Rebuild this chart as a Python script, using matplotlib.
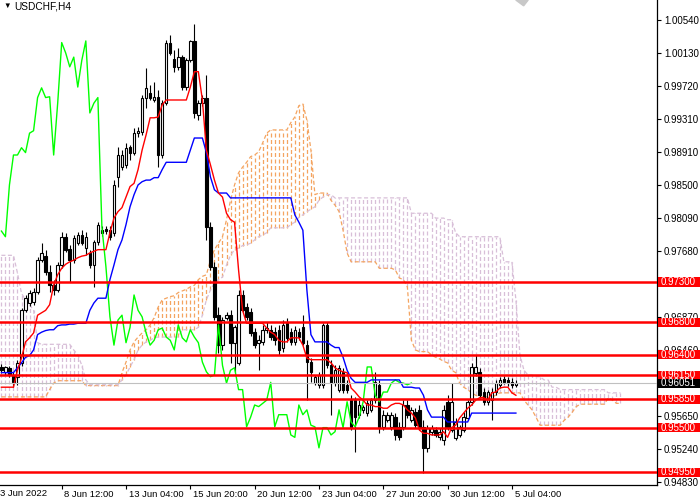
import matplotlib
matplotlib.use("Agg")
import matplotlib.pyplot as plt
import matplotlib.transforms as mtransforms
from matplotlib.patches import Rectangle
import numpy as np

plt.rcParams['font.family'] = ['Liberation Sans', 'DejaVu Sans']

symbol = "USDCHF,H4"

# H4 candles, 3 Jun 20:00 .. 5 Jul 08:00
opens = [0.9625, 0.9619, 0.9624, 0.9615, 0.9613, 0.9630, 0.9695, 0.9704, 0.9705, 0.9718,
         0.9757, 0.9762, 0.9742, 0.9726, 0.9720, 0.9751, 0.9786, 0.9771, 0.9757, 0.9778,
         0.9788, 0.9772, 0.9766, 0.9751, 0.9780, 0.9791, 0.9796, 0.9794, 0.9791, 0.9860,
         0.9872, 0.9875, 0.9897, 0.9890, 0.9914, 0.9915, 0.9958, 0.9964, 0.9955, 0.9959,
         0.9887, 0.9951, 1.0026, 1.0006, 0.9996, 1.0008, 0.9971, 1.0004, 1.0028, 0.9936,
         0.9951, 0.9958, 0.9798, 0.9749, 0.9689, 0.9652, 0.9686, 0.9689, 0.9655, 0.9630,
         0.9714, 0.9699, 0.9693, 0.9668, 0.9655, 0.9656, 0.9671, 0.9671, 0.9668, 0.9671,
         0.9649, 0.9679, 0.9668, 0.9656, 0.9668, 0.9674, 0.9652, 0.9631, 0.9605, 0.9603,
         0.9603, 0.9677, 0.9627, 0.9605, 0.9597, 0.9619, 0.9603, 0.9584, 0.9584, 0.9566,
         0.9572, 0.9568, 0.9572, 0.9584, 0.9603, 0.9551, 0.9559, 0.9551, 0.9563, 0.9551,
         0.9551, 0.9578, 0.9559, 0.9569, 0.9572, 0.9551, 0.9525, 0.9545, 0.9547, 0.9538,
         0.9535, 0.9582, 0.9547, 0.9537, 0.9541, 0.9547, 0.9562, 0.9582, 0.9618, 0.9619,
         0.9594, 0.9582, 0.9584, 0.9594, 0.9603, 0.9610, 0.9609, 0.9606, 0.9603]
highs = [0.9629, 0.9626, 0.9626, 0.9619, 0.9634, 0.9698, 0.9714, 0.9720, 0.9723, 0.9761,
         0.9778, 0.9770, 0.9751, 0.9733, 0.9755, 0.9792, 0.9791, 0.9776, 0.9788, 0.9792,
         0.9794, 0.9792, 0.9770, 0.9782, 0.9804, 0.9799, 0.9799, 0.9799, 0.9856, 0.9897,
         0.9893, 0.9902, 0.9899, 0.9920, 0.9922, 0.9961, 0.9995, 0.9974, 0.9977, 0.9967,
         0.9955, 1.0029, 1.0035, 1.0017, 1.0019, 1.0011, 1.0007, 1.0029, 1.0049, 0.9955,
         0.9961, 0.9986, 0.9804, 0.9755, 0.9699, 0.9687, 0.9693, 0.9695, 0.9677, 0.9720,
         0.9720, 0.9704, 0.9698, 0.9673, 0.9665, 0.9677, 0.9681, 0.9677, 0.9674, 0.9677,
         0.9683, 0.9686, 0.9673, 0.9676, 0.9673, 0.9689, 0.9658, 0.9636, 0.9615, 0.9619,
         0.9679, 0.9681, 0.9634, 0.9627, 0.9627, 0.9624, 0.9609, 0.9590, 0.9588, 0.9584,
         0.9578, 0.9584, 0.9587, 0.9619, 0.9609, 0.9572, 0.9569, 0.9569, 0.9568, 0.9557,
         0.9584, 0.9584, 0.9576, 0.9574, 0.9578, 0.9559, 0.9553, 0.9553, 0.9551, 0.9550,
         0.9578, 0.9590, 0.9605, 0.9562, 0.9553, 0.9569, 0.9584, 0.9630, 0.9640, 0.9624,
         0.9599, 0.9597, 0.9599, 0.9609, 0.9613, 0.9614, 0.9613, 0.9611, 0.9609]
lows = [0.9618, 0.9615, 0.9613, 0.9600, 0.9603, 0.9626, 0.9693, 0.9700, 0.9702, 0.9715,
        0.9755, 0.9739, 0.9718, 0.9714, 0.9718, 0.9747, 0.9767, 0.9730, 0.9754, 0.9776,
        0.9776, 0.9763, 0.9747, 0.9724, 0.9776, 0.9787, 0.9789, 0.9782, 0.9787, 0.9848,
        0.9869, 0.9871, 0.9881, 0.9887, 0.9909, 0.9912, 0.9945, 0.9955, 0.9953, 0.9872,
        0.9883, 0.9949, 1.0011, 0.9990, 0.9992, 0.9967, 0.9967, 1.0002, 0.9933, 0.9930,
        0.9948, 0.9782, 0.9745, 0.9683, 0.9642, 0.9646, 0.9683, 0.9630, 0.9619, 0.9627,
        0.9693, 0.9683, 0.9663, 0.9648, 0.9621, 0.9652, 0.9667, 0.9658, 0.9652, 0.9640,
        0.9644, 0.9656, 0.9652, 0.9652, 0.9658, 0.9652, 0.9584, 0.9606, 0.9603, 0.9599,
        0.9599, 0.9624, 0.9566, 0.9601, 0.9594, 0.9593, 0.9593, 0.9547, 0.9520, 0.9562,
        0.9568, 0.9564, 0.9569, 0.9580, 0.9543, 0.9547, 0.9557, 0.9547, 0.9535, 0.9535,
        0.9547, 0.9562, 0.9557, 0.9550, 0.9547, 0.9494, 0.9520, 0.9541, 0.9538, 0.9535,
        0.9529, 0.9547, 0.9545, 0.9535, 0.9538, 0.9545, 0.9559, 0.9578, 0.9614, 0.9587,
        0.9578, 0.9578, 0.9559, 0.9590, 0.9599, 0.9604, 0.9601, 0.9599, 0.9600]
closes = [0.9621, 0.9625, 0.9615, 0.9606, 0.9630, 0.9695, 0.9710, 0.9716, 0.9718, 0.9757,
          0.9766, 0.9742, 0.9726, 0.9720, 0.9751, 0.9786, 0.9770, 0.9757, 0.9784, 0.9788,
          0.9778, 0.9786, 0.9751, 0.9780, 0.9801, 0.9794, 0.9793, 0.9786, 0.9850, 0.9887,
          0.9887, 0.9896, 0.9890, 0.9914, 0.9917, 0.9958, 0.9970, 0.9958, 0.9959, 0.9887,
          0.9951, 1.0026, 1.0013, 0.9996, 1.0008, 0.9971, 1.0004, 1.0028, 0.9939, 0.9951,
          0.9958, 0.9798, 0.9749, 0.9687, 0.9652, 0.9683, 0.9689, 0.9655, 0.9674, 0.9714,
          0.9695, 0.9687, 0.9667, 0.9652, 0.9658, 0.9671, 0.9673, 0.9662, 0.9658, 0.9646,
          0.9677, 0.9661, 0.9656, 0.9671, 0.9662, 0.9655, 0.9631, 0.9619, 0.9613, 0.9615,
          0.9677, 0.9627, 0.9605, 0.9621, 0.9624, 0.9597, 0.9597, 0.9551, 0.9563, 0.9578,
          0.9576, 0.9580, 0.9584, 0.9606, 0.9551, 0.9566, 0.9566, 0.9566, 0.9541, 0.9538,
          0.9578, 0.9566, 0.9572, 0.9553, 0.9551, 0.9525, 0.9550, 0.9550, 0.9541, 0.9545,
          0.9572, 0.9550, 0.9582, 0.9557, 0.9551, 0.9563, 0.9582, 0.9625, 0.9625, 0.9590,
          0.9582, 0.9594, 0.9594, 0.9605, 0.9609, 0.9606, 0.9605, 0.9603, 0.96051]

# Ichimoku lines
tenkan = [0.9600, 0.9600, 0.9600, 0.9600, 0.9621, 0.9636, 0.9656, 0.9661, 0.9667, 0.9689,
          0.9692, 0.9695, 0.9702, 0.9726, 0.9739, 0.9747, 0.9752, 0.9755, 0.9757, 0.9760,
          0.9762, 0.9763, 0.9766, 0.9768, 0.9770, 0.9770, 0.9770, 0.9791, 0.9809, 0.9817,
          0.9822, 0.9835, 0.9848, 0.9852, 0.9869, 0.9893, 0.9912, 0.9933, 0.9933, 0.9934,
          0.9949, 0.9955, 0.9955, 0.9955, 0.9955, 0.9955, 0.9955, 0.9971, 0.9990, 0.9990,
          0.9955, 0.9893, 0.9875, 0.9856, 0.9840, 0.9835, 0.9815, 0.9807, 0.9804, 0.9745,
          0.9695, 0.9679, 0.9679, 0.9679, 0.9679, 0.9679, 0.9673, 0.9668, 0.9665, 0.9658,
          0.9656, 0.9656, 0.9661, 0.9661, 0.9661, 0.9652, 0.9636, 0.9634, 0.9634, 0.9634,
          0.9634, 0.9634, 0.9630, 0.9624, 0.9621, 0.9619, 0.9618, 0.9599, 0.9594, 0.9588,
          0.9584, 0.9578, 0.9578, 0.9576, 0.9576, 0.9574, 0.9574, 0.9578, 0.9580, 0.9580,
          0.9578, 0.9572, 0.9568, 0.9562, 0.9547, 0.9543, 0.9543, 0.9541, 0.9541, 0.9541,
          0.9545, 0.9538, 0.9550, 0.9553, 0.9562, 0.9568, 0.9574, 0.9578, 0.9584, 0.9587,
          0.9587, 0.9584, 0.9593, 0.9594, 0.9599, 0.9600, 0.9600, 0.9593, 0.9590]
kijun = ([0.9618, 0.9618, 0.9618, 0.9618, 0.9624, 0.9630, 0.9637, 0.9639, 0.9646, 0.9665,
          0.9668, 0.9670, 0.9671, 0.9671, 0.9676, 0.9677, 0.9677, 0.9678, 0.9678, 0.9679,
          0.9679, 0.9679, 0.9695, 0.9704, 0.9710, 0.9710, 0.9710, 0.9733, 0.9751, 0.9770,
          0.9782, 0.9801, 0.9823, 0.9838, 0.9850, 0.9854, 0.9856, 0.9856, 0.9859, 0.9859,
          0.9869, 0.9878, 0.9878, 0.9878, 0.9878, 0.9878, 0.9878, 0.9893, 0.9908, 0.9908,
          0.9908, 0.9890, 0.9860, 0.9844, 0.9840, 0.9840, 0.9840]
         + [0.9834] * 16
         + [0.9813, 0.9804, 0.9794, 0.9720, 0.9665, 0.9656, 0.9656,
            0.9656, 0.9656, 0.9652, 0.9649, 0.9649, 0.9637, 0.9621, 0.9611, 0.9606, 0.9606,
            0.9606, 0.9606]
         + [0.9609] * 8
         + [0.9600, 0.9600, 0.9600, 0.9599, 0.9599, 0.9590, 0.9572, 0.9563, 0.9563, 0.9563,
            0.9563]
         + [0.9557] * 6
         + [0.9568] * 12)

# leading spans, already shifted 26 bars forward (155 positions)
span_a = ([0.9588] * 12 + [0.9597, 0.9605] + [0.9608] * 7 + [0.9602] * 9
          + [0.9618, 0.9631, 0.9646, 0.9656, 0.9662, 0.9667, 0.9671, 0.9677, 0.9686, 0.9699,
             0.9708, 0.9710, 0.9712, 0.9713, 0.9717, 0.9719, 0.9721, 0.9724, 0.9726, 0.9733,
             0.9737, 0.9739, 0.9757, 0.9770, 0.9778, 0.9786, 0.9807, 0.9831, 0.9850, 0.9865,
             0.9872, 0.9878, 0.9885, 0.9887, 0.9891, 0.9902, 0.9914]
          + [0.9918] * 5
          + [0.9927, 0.9934, 0.9948, 0.9950, 0.9930, 0.9893, 0.9838, 0.9840, 0.9840, 0.9840,
             0.9831, 0.9825, 0.9817, 0.9794, 0.9766]
          + [0.9755] * 7 + [0.9747] * 4
          + [0.9745, 0.9735, 0.9733, 0.9724, 0.9658, 0.9646, 0.9644, 0.9644, 0.9644, 0.9640,
             0.9637, 0.9635, 0.9632, 0.9630, 0.9621, 0.9618, 0.9605, 0.9600, 0.9597, 0.9593,
             0.9590, 0.9588, 0.9588, 0.9588, 0.9588, 0.9590]
          + [0.9593] * 6
          + [0.9584, 0.9578, 0.9572, 0.9563] + [0.9553] * 6
          + [0.9559, 0.9563, 0.9569, 0.9576] + [0.9579] * 7
          + [0.9587, 0.9584, 0.9580, 0.9580])
span_b = ([0.9763] * 4 + [0.9741, 0.9716, 0.9708, 0.9702, 0.9695, 0.9655] + [0.9653] * 8
          + [0.9646, 0.9640, 0.9627, 0.9609] + [0.9603] * 8
          + [0.9609, 0.9615, 0.9625, 0.9634, 0.9646, 0.9652, 0.9656, 0.9658, 0.9661]
          + [0.9662] * 6 + [0.9671] * 4
          + [0.9674, 0.9689, 0.9708, 0.9720, 0.9729, 0.9733, 0.9736, 0.9751, 0.9763, 0.9770,
             0.9772, 0.9775, 0.9776, 0.9778, 0.9782, 0.9786, 0.9788, 0.9791]
          + [0.9797] * 5
          + [0.9801, 0.9804, 0.9810, 0.9813, 0.9817, 0.9820, 0.9823, 0.9831, 0.9835, 0.9838,
             0.9838]
          + [0.9834] * 19 + [0.9815] * 6 + [0.9809] * 3 + [0.9807] * 2 + [0.9791]
          + [0.9786] * 11 + [0.9755] * 3
          + [0.9708, 0.9640, 0.9621, 0.9615, 0.9615, 0.9613, 0.9613, 0.9609, 0.9609, 0.9600,
             0.9600]
          + [0.9597] * 12 + [0.9593] * 4)

levels = [0.9730, 0.9680, 0.9640, 0.9615, 0.9585, 0.9550, 0.9495]
last_price = 0.96051
price_ticks = [1.00540, 1.00130, 0.99720, 0.99310, 0.98910, 0.98500, 0.98090, 0.97680,
               0.96870, 0.96460, 0.95650, 0.95240, 0.94830]
time_ticks = [15, 31, 47, 63, 79, 95, 111, 127]
time_labels = ["8 Jun 12:00", "13 Jun 04:00", "15 Jun 20:00", "20 Jun 12:00",
               "23 Jun 04:00", "27 Jun 20:00", "30 Jun 12:00", "5 Jul 04:00"]
first_label = "3 Jun 2022"

fig = plt.figure(figsize=(7, 5), dpi=100)
ax = fig.add_axes([0, 0.03, 657 / 700, 0.97])

x = np.arange(len(closes))
xc = np.arange(len(span_a))
sa = np.array(span_a)
sb = np.array(span_b)
dash = (0, (3.2, 2.0))

# cloud: vertical dotted hatch per bar
up = sa >= sb
ax.vlines(xc[up], sb[up], sa[up], colors='#F4A460', linestyles=[dash], lw=0.9, zorder=1)
ax.vlines(xc[~up], sa[~up], sb[~up], colors='#D8BFD8', linestyles=[dash], lw=0.9, zorder=1)
ax.plot(xc, sa, color='#F4A460', ls=dash, lw=0.9, zorder=1)
ax.plot(xc, sb, color='#D8BFD8', ls=dash, lw=0.9, zorder=1)

# candles
o = np.array(opens)
c = np.array(closes)
ax.vlines(x, lows, highs, colors='black', lw=0.8, zorder=2)
bull = c >= o
body = np.maximum(np.abs(c - o), 0.00004)
ax.bar(x[bull], body[bull], bottom=o[bull], width=0.62, color='white',
       edgecolor='black', linewidth=0.8, zorder=2)
ax.bar(x[~bull], body[~bull], bottom=c[~bull], width=0.62, color='black',
       edgecolor='black', linewidth=0.8, zorder=2)

# chikou, kijun, tenkan
ax.plot(x[:-26], closes[26:], color='#00FF00', lw=1, zorder=3)
ax.plot(x, kijun, color='blue', lw=1, zorder=3)
ax.plot(x, tenkan, color='red', lw=1, zorder=3)

ax.axhline(last_price, color='#C0C0C0', lw=0.8, zorder=3)
for lv in levels:
    ax.axhline(lv, color='red', lw=1.8, zorder=4)

ax.set_xlim(-0.35, 163.1)
ax.set_ylim(0.94791, 1.00786)

ax.yaxis.tick_right()
ax.set_yticks(price_ticks)
ax.set_yticklabels(["%.5f" % p for p in price_ticks])
ax.tick_params(axis='y', labelsize=7, length=3, pad=2, width=0.8)
ax.set_xticks(time_ticks)
ax.set_xticklabels(time_labels)
ax.tick_params(axis='x', labelsize=6.8, length=3, pad=0.3, width=0.8)
shift = mtransforms.ScaledTranslation(2 / 72, 0, fig.dpi_scale_trans)
for lab in ax.get_xticklabels():
    lab.set_horizontalalignment('left')
    lab.set_transform(lab.get_transform() + shift)
ax.text(0.0, -0.008, first_label, transform=ax.transAxes, ha='left', va='top',
        fontsize=6.8, clip_on=False)

for side in ['left', 'top']:
    ax.spines[side].set_visible(False)
for side in ['right', 'bottom']:
    ax.spines[side].set_linewidth(0.9)

# price boxes on the axis
trans = mtransforms.blended_transform_factory(ax.transAxes, ax.transData)
box_h = 0.00112
box_w = 700 / 657 - 1.0015


def price_box(value, face):
    ax.add_patch(Rectangle((1.0015, value - box_h / 2), box_w, box_h, transform=trans,
                           facecolor=face, edgecolor='none', clip_on=False, zorder=5))
    ax.text(1.005, value, "%.5f" % value, transform=trans, ha='left', va='center',
            fontsize=7, color='white', clip_on=False, zorder=6)


for lv in levels:
    price_box(lv, 'red')
price_box(last_price, 'black')

ax.text(0.006, 0.986, "\u25bc", transform=ax.transAxes, ha='left', va='center', fontsize=5.5)
ax.text(0.021, 0.986, symbol, transform=ax.transAxes, ha='left', va='center', fontsize=7.3)
ax.fill([0.785, 0.804, 0.797], [1.0, 1.0, 0.988], transform=ax.transAxes,
        color='#C8C8C8', clip_on=False)

fig.savefig("out.png", dpi=100)
